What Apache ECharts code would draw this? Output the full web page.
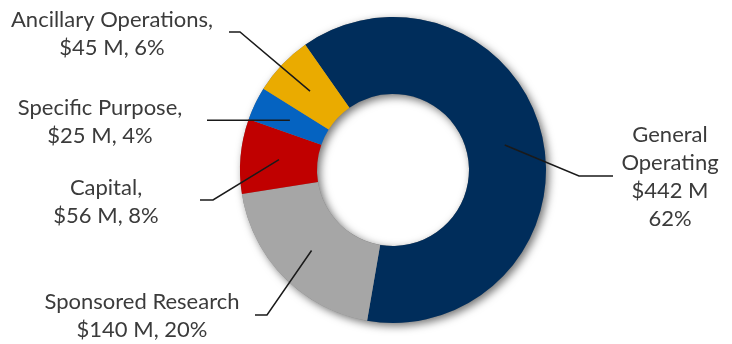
<!DOCTYPE html>
<html>
<head>
<meta charset="utf-8">
<script src="https://cdn.jsdelivr.net/npm/echarts@6/dist/echarts.min.js"></script>
<style>
  html, body { margin: 0; padding: 0; background: #ffffff; }
  #chart { width: 732px; height: 344px; }
</style>
</head>
<body>
<div id="chart"></div>
<script>
// Budget by fund type, $ millions
const categories = ['General Operating', 'Sponsored Research', 'Capital', 'Specific Purpose', 'Ancillary Operations'];
const amountsM = [442, 140, 56, 25, 45];
const labelTitles = ['General\nOperating', 'Sponsored Research', 'Capital,', 'Specific Purpose,', 'Ancillary Operations,'];
const sliceColors = ['#002D5B', '#A6A6A6', '#C00000', '#0563C1', '#EAAB00'];

// Ring geometry (px)
const CENTER = [393, 170];
const R_IN = 76;
const R_OUT = 153;
const START_ANGLE = 125;

// Label text centre plus the elbow and end of each leader line (px)
const labelPlacement = [
  { x: 670, y: 177, elbow: [579, 176], end: [613, 176] },
  { x: 142, y: 316, elbow: [267, 315], end: [255, 315] },
  { x: 106, y: 202, elbow: [213, 200], end: [200, 200] },
  { x: 100, y: 122, elbow: null,       end: [207, 122] },
  { x: 112, y: 34,  elbow: [240, 32],  end: [229, 32] }
];

const total = amountsM.reduce((a, b) => a + b, 0);
const chart = echarts.init(document.getElementById('chart'), null, { renderer: 'canvas' });

const pieData = categories.map((name, i) => ({
  name: name,
  value: amountsM[i],
  itemStyle: { color: sliceColors[i] }
}));

function labelFor(p) {
  const pct = Math.round(p.value / total * 100);
  const title = labelTitles[p.dataIndex];
  if (p.dataIndex === 0) {
    return title + '\n$' + p.value + ' M\n' + pct + '%';
  }
  return title + '\n$' + p.value + ' M, ' + pct + '%';
}

// Leader lines run from the middle of the ring, at each slice's mid-angle,
// out to the label; the library's outer-edge anchor gives the direction.
function placeLabel(params) {
  if (params.seriesIndex !== 2) return {};
  const pl = labelPlacement[params.dataIndex];
  const midR = (R_IN + R_OUT) / 2;
  const pts = params.labelLinePoints;
  let start = [CENTER[0], CENTER[1]];
  if (pts && pts.length) {
    const dx = pts[0][0] - CENTER[0];
    const dy = pts[0][1] - CENTER[1];
    const d = Math.sqrt(dx * dx + dy * dy) || 1;
    start = [CENTER[0] + dx / d * midR, CENTER[1] + dy / d * midR];
  }
  const line = pl.elbow
    ? [start, pl.elbow, pl.end]
    : [start, [(start[0] + pl.end[0]) / 2, start[1]], [pl.end[0], start[1]]];
  return {
    x: pl.x,
    y: pl.y,
    align: 'center',
    verticalAlign: 'middle',
    labelLinePoints: line
  };
}

const ringBase = {
  type: 'pie',
  center: CENTER,
  radius: [R_IN, R_OUT],
  startAngle: START_ANGLE,
  clockwise: true,
  avoidLabelOverlap: false,
  emphasis: { disabled: true }
};

chart.setOption({
  animation: false,
  backgroundColor: '#ffffff',
  series: [
    Object.assign({}, ringBase, {
      // soft drop shadow under the whole ring
      silent: true,
      z: 1,
      label: { show: false },
      labelLine: { show: false },
      itemStyle: {
        color: '#7f7f7f',
        shadowBlur: 9,
        shadowColor: 'rgba(0,0,0,0.55)',
        shadowOffsetX: 3,
        shadowOffsetY: 3
      },
      data: [{ name: 'ring', value: total }]
    }),
    Object.assign({}, ringBase, {
      // coloured slices
      z: 2,
      label: { show: false },
      labelLine: { show: false },
      itemStyle: { borderWidth: 0 },
      data: pieData
    }),
    Object.assign({}, ringBase, {
      // labels and leader lines, drawn over the slices
      z: 3,
      silent: true,
      itemStyle: { color: 'rgba(0,0,0,0)', borderWidth: 0 },
      label: {
        show: true,
        position: 'outside',
        formatter: labelFor,
        fontFamily: 'Lato',
        fontSize: 22,
        lineHeight: 28,
        color: '#3b3b3b',
        align: 'center'
      },
      labelLine: {
        show: true,
        length: 20,
        length2: 20,
        smooth: false,
        lineStyle: { color: '#1a1a1a', width: 1.5 }
      },
      labelLayout: placeLabel,
      data: categories.map((name, i) => ({ name: name, value: amountsM[i] }))
    })
  ]
});
</script>
</body>
</html>
